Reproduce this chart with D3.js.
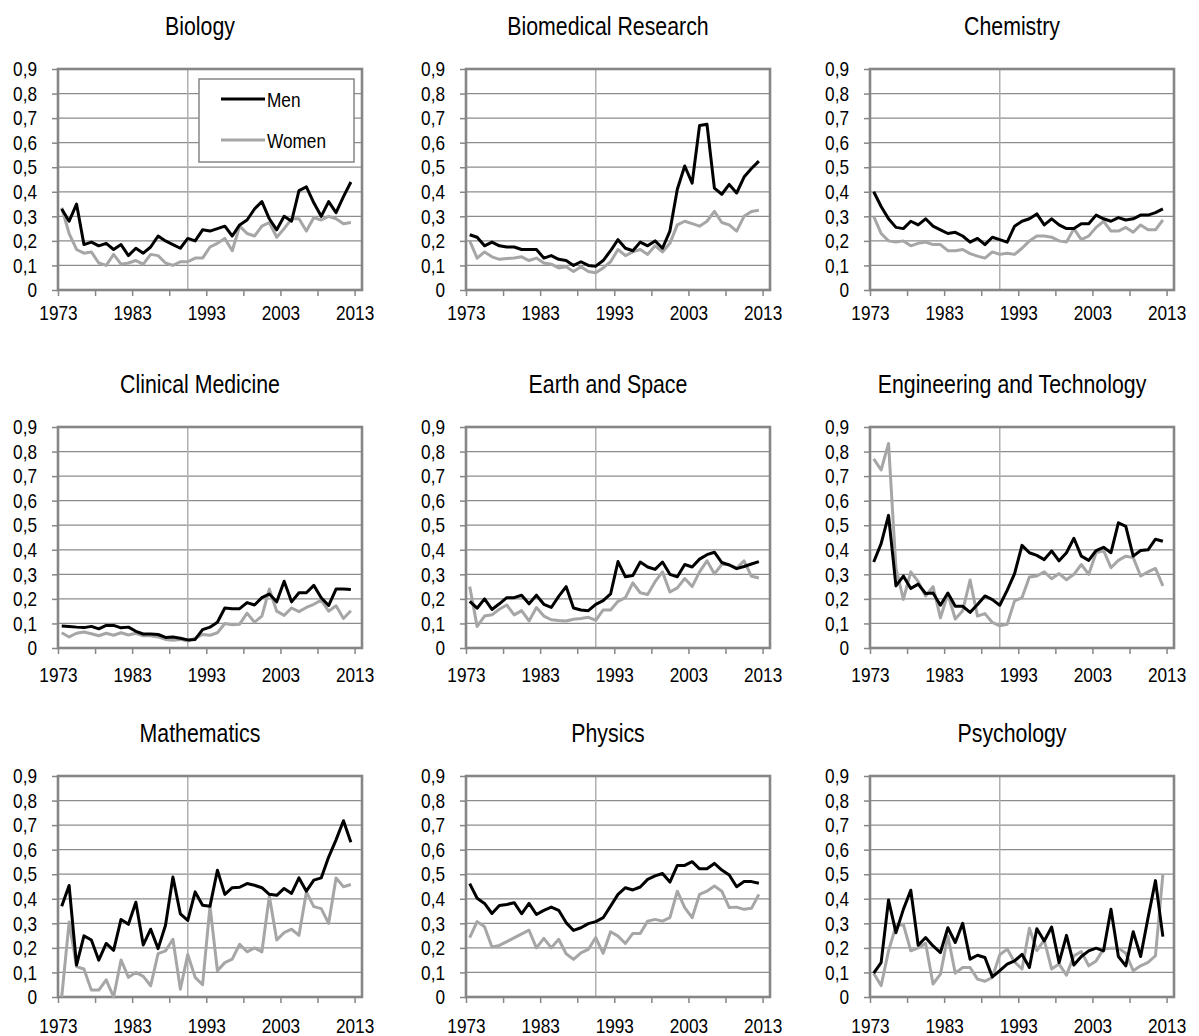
<!DOCTYPE html>
<html>
<head>
<meta charset="utf-8">
<script src="https://cdn.jsdelivr.net/npm/d3@7"></script>
<style>
  body { margin: 0; background: #fff; }
  .tick-text { font-family: "Liberation Sans", Arial, sans-serif; font-size: 21px; fill: #000; }
  .panel-title { font-family: "Liberation Sans", Arial, sans-serif; font-size: 26px; fill: #000; }
  .legend-text { font-family: "Liberation Sans", Arial, sans-serif; font-size: 21px; fill: #000; }
</style>
</head>
<body>
<svg id="chart" width="1199" height="1036"></svg>
<script>
// ── DATA ────────────────────────────────────────────────────────────────
const years = d3.range(1973, 2013);
const yTicks = [0, 0.1, 0.2, 0.3, 0.4, 0.5, 0.6, 0.7, 0.8, 0.9];
const xTickMarks = [1973, 1978, 1983, 1988, 1993, 1998, 2003, 2008, 2013];
const xTickLabels = [1973, 1983, 1993, 2003, 2013];
const markerYear = 1990;
const seriesNames = ["Men", "Women"];

const fieldNames = [
  "Biology", "Biomedical Research", "Chemistry",
  "Clinical Medicine", "Earth and Space", "Engineering and Technology",
  "Mathematics", "Physics", "Psychology"
];

const biologyMen = [0.33,0.28,0.35,0.185,0.195,0.18,0.19,0.165,0.185,0.14,0.17,0.15,0.175,0.22,0.2,0.185,0.17,0.21,0.2,0.245,0.24,0.25,0.26,0.22,0.265,0.285,0.33,0.36,0.29,0.245,0.3,0.28,0.405,0.42,0.355,0.3,0.36,0.315,0.38,0.44];
const biologyWomen = [0.335,0.23,0.165,0.15,0.155,0.11,0.1,0.145,0.105,0.11,0.12,0.105,0.145,0.14,0.11,0.1,0.115,0.115,0.13,0.13,0.175,0.19,0.21,0.16,0.26,0.23,0.22,0.26,0.275,0.215,0.25,0.29,0.29,0.24,0.295,0.285,0.3,0.29,0.27,0.275];

const biomedMen = [0.225,0.215,0.18,0.195,0.18,0.175,0.175,0.165,0.165,0.165,0.13,0.14,0.125,0.12,0.1,0.115,0.1,0.097,0.12,0.16,0.205,0.17,0.16,0.195,0.18,0.2,0.17,0.24,0.41,0.505,0.435,0.67,0.675,0.415,0.39,0.43,0.395,0.46,0.495,0.525];
const biomedWomen = [0.2,0.13,0.155,0.135,0.125,0.128,0.13,0.135,0.12,0.13,0.11,0.105,0.09,0.095,0.075,0.095,0.075,0.07,0.09,0.115,0.165,0.14,0.155,0.165,0.145,0.18,0.155,0.19,0.265,0.28,0.27,0.26,0.28,0.32,0.275,0.265,0.24,0.3,0.32,0.325];

const chemistryMen = [0.4,0.34,0.29,0.255,0.25,0.28,0.265,0.29,0.26,0.245,0.23,0.235,0.22,0.195,0.21,0.185,0.215,0.205,0.195,0.26,0.28,0.29,0.31,0.265,0.29,0.265,0.25,0.25,0.27,0.27,0.305,0.29,0.28,0.295,0.285,0.29,0.305,0.305,0.315,0.33];
const chemistryWomen = [0.3,0.23,0.2,0.195,0.2,0.18,0.19,0.195,0.185,0.185,0.16,0.16,0.165,0.148,0.138,0.13,0.155,0.145,0.15,0.145,0.17,0.2,0.22,0.22,0.215,0.2,0.195,0.25,0.205,0.22,0.255,0.28,0.24,0.24,0.255,0.235,0.265,0.245,0.245,0.285];

const clinicalMen = [0.09,0.088,0.085,0.083,0.088,0.078,0.092,0.092,0.082,0.085,0.068,0.057,0.057,0.055,0.043,0.045,0.04,0.033,0.035,0.075,0.085,0.105,0.163,0.16,0.16,0.185,0.175,0.205,0.22,0.188,0.272,0.188,0.225,0.225,0.255,0.205,0.173,0.24,0.24,0.238];
const clinicalWomen = [0.062,0.045,0.06,0.065,0.058,0.05,0.06,0.052,0.062,0.053,0.06,0.05,0.05,0.045,0.035,0.032,0.035,0.028,0.04,0.055,0.052,0.062,0.1,0.095,0.097,0.142,0.105,0.13,0.24,0.15,0.133,0.163,0.148,0.165,0.178,0.195,0.15,0.172,0.12,0.152];

const earthMen = [0.19,0.162,0.2,0.157,0.18,0.205,0.205,0.215,0.18,0.215,0.178,0.165,0.21,0.25,0.163,0.155,0.152,0.178,0.193,0.22,0.352,0.29,0.295,0.35,0.33,0.32,0.35,0.3,0.29,0.34,0.33,0.362,0.38,0.39,0.348,0.338,0.323,0.332,0.342,0.352];
const earthWomen = [0.25,0.088,0.13,0.135,0.158,0.175,0.135,0.152,0.11,0.165,0.13,0.115,0.112,0.11,0.117,0.12,0.125,0.113,0.155,0.155,0.19,0.205,0.265,0.225,0.218,0.27,0.31,0.228,0.245,0.283,0.25,0.31,0.355,0.302,0.34,0.34,0.325,0.355,0.292,0.285];

const engineeringMen = [0.35,0.425,0.54,0.253,0.293,0.242,0.26,0.222,0.224,0.174,0.224,0.17,0.17,0.145,0.177,0.212,0.197,0.174,0.235,0.303,0.418,0.388,0.377,0.36,0.395,0.355,0.388,0.447,0.374,0.357,0.397,0.41,0.388,0.51,0.495,0.374,0.397,0.4,0.443,0.435];
const engineeringWomen = [0.77,0.725,0.833,0.325,0.198,0.31,0.27,0.212,0.25,0.123,0.22,0.118,0.152,0.277,0.13,0.14,0.104,0.09,0.097,0.192,0.205,0.289,0.293,0.31,0.282,0.303,0.278,0.3,0.34,0.3,0.388,0.397,0.327,0.357,0.374,0.368,0.293,0.31,0.324,0.253];

const mathMen = [0.37,0.454,0.13,0.249,0.232,0.15,0.218,0.19,0.316,0.296,0.386,0.212,0.276,0.197,0.292,0.489,0.339,0.312,0.428,0.374,0.37,0.516,0.418,0.445,0.447,0.462,0.455,0.445,0.418,0.414,0.442,0.422,0.485,0.431,0.476,0.485,0.57,0.64,0.718,0.63];
const mathWomen = [0.0,0.305,0.124,0.114,0.028,0.028,0.07,0.0,0.151,0.08,0.1,0.084,0.046,0.177,0.188,0.235,0.032,0.173,0.08,0.05,0.37,0.107,0.14,0.154,0.215,0.184,0.2,0.184,0.411,0.232,0.262,0.276,0.251,0.428,0.368,0.36,0.3,0.485,0.449,0.458];

const physicsMen = [0.462,0.402,0.381,0.34,0.373,0.377,0.384,0.339,0.381,0.336,0.353,0.366,0.353,0.303,0.271,0.282,0.299,0.307,0.323,0.37,0.418,0.445,0.436,0.448,0.479,0.493,0.503,0.468,0.536,0.536,0.551,0.522,0.522,0.544,0.517,0.497,0.449,0.47,0.47,0.463];
const physicsWomen = [0.242,0.307,0.286,0.204,0.21,null,null,null,0.272,0.2,0.239,0.2,0.235,0.176,0.153,0.18,0.194,0.242,0.178,0.266,0.248,0.218,0.259,0.259,0.309,0.316,0.309,0.323,0.431,0.364,0.323,0.418,0.431,0.452,0.431,0.364,0.366,0.357,0.361,0.418];

const psychologyMen = [0.097,0.14,0.395,0.262,0.357,0.435,0.211,0.242,0.208,0.181,0.282,0.222,0.3,0.154,0.17,0.161,0.082,0.107,0.134,0.147,0.174,0.12,0.278,0.228,0.285,0.14,0.251,0.13,0.165,0.188,0.199,0.188,0.357,0.165,0.127,0.266,0.165,0.323,0.474,0.246];
const psychologyWomen = [0.097,0.046,0.188,0.289,0.296,0.188,0.2,0.219,0.053,0.093,0.249,0.097,0.12,0.12,0.073,0.064,0.08,0.172,0.195,0.143,0.114,0.28,0.189,0.232,0.114,0.134,0.089,0.168,0.185,0.127,0.147,0.195,0.199,0.199,0.178,0.107,0.127,0.141,0.168,0.499];

const menSeries = [biologyMen, biomedMen, chemistryMen, clinicalMen, earthMen, engineeringMen, mathMen, physicsMen, psychologyMen];
const womenSeries = [biologyWomen, biomedWomen, chemistryWomen, clinicalWomen, earthWomen, engineeringWomen, mathWomen, physicsWomen, psychologyWomen];

// ── LAYOUT ──────────────────────────────────────────────────────────────
const colLeft = [58, 466, 870];
const rowTop = [69, 427, 776];
const rowLabelPad = [9, 13, 15]; // year labels sit a bit lower in the lower rows
const plotW = 304, plotH = 221;
const narrow = 0.82; // horizontal squeeze to get an Arial Narrow look
const colors = { men: "#000000", women: "#a6a6a6", frame: "#868686", grid: "#8c8c8c", marker: "#b0b0b0" };

const svg = d3.select("#chart");

// comma as decimal mark, plain "0" at the origin
const locale = d3.formatLocale({ decimal: ",", thousands: ".", grouping: [3], currency: ["", ""] });
const fmt = locale.format(".1f");
const yFormat = (d) => (d === 0 ? "0" : fmt(d));

const xScale = d3.scaleLinear().domain([1973, 2014]).range([0, plotW]);
const yScale = d3.scaleLinear().domain([0, 0.9]).range([plotH, 0]);

// points sit in the middle of each year slot
const lineGen = d3.line()
  .x((d) => xScale(d[0] + 0.5))
  .y((d) => yScale(d[1]));

// squeezed text placed at (x, y)
function narrowText(parent, x, y, cls, anchor, txt) {
  return parent.append("g")
    .attr("transform", `translate(${x},${y}) scale(${narrow},1)`)
    .append("text")
    .attr("class", cls)
    .attr("text-anchor", anchor)
    .text(txt);
}

fieldNames.forEach((name, i) => {
  const row = Math.floor(i / 3);
  const g = svg.append("g")
    .attr("transform", `translate(${colLeft[i % 3]},${rowTop[row]})`);

  // title
  narrowText(g, plotW / 2 - 10, -34, "panel-title", "middle", name);

  // horizontal grid lines
  g.append("g")
    .selectAll("line")
    .data(yTicks.filter((d) => d > 0 && d < 0.9))
    .join("line")
    .attr("x1", 0).attr("x2", plotW)
    .attr("y1", (d) => yScale(d)).attr("y2", (d) => yScale(d))
    .attr("stroke", colors.grid)
    .attr("stroke-width", 1.3);

  // vertical marker line
  g.append("line")
    .attr("x1", xScale(markerYear + 0.5)).attr("x2", xScale(markerYear + 0.5))
    .attr("y1", 0).attr("y2", plotH)
    .attr("stroke", colors.marker)
    .attr("stroke-width", 1.5);

  // y axis
  const yAxis = g.append("g")
    .call(d3.axisLeft(yScale).tickValues(yTicks).tickFormat(yFormat).tickSize(6));
  yAxis.select(".domain").remove();
  yAxis.selectAll("line").attr("stroke", colors.frame).attr("stroke-width", 1.5);
  yAxis.selectAll("text")
    .attr("class", "tick-text")
    .attr("x", -21 / narrow)
    .attr("transform", `scale(${narrow},1)`);

  // x axis
  const xAxis = g.append("g")
    .attr("transform", `translate(0,${plotH})`)
    .call(d3.axisBottom(xScale).tickValues(xTickMarks)
      .tickFormat((d) => (xTickLabels.includes(d) ? d : "")).tickSize(6).tickPadding(rowLabelPad[row]));
  xAxis.select(".domain").remove();
  xAxis.selectAll("line").attr("stroke", colors.frame).attr("stroke-width", 1.5);
  xAxis.selectAll("text")
    .attr("class", "tick-text")
    .attr("transform", `scale(${narrow},1)`);

  // plot frame
  g.append("rect")
    .attr("width", plotW).attr("height", plotH)
    .attr("fill", "none")
    .attr("stroke", colors.frame)
    .attr("stroke-width", 2.6);

  // series
  const pairs = (vals) => years.map((y, k) => [y, vals[k]]).filter((d) => d[1] != null);
  g.append("path")
    .attr("d", lineGen(pairs(womenSeries[i])))
    .attr("fill", "none")
    .attr("stroke", colors.women)
    .attr("stroke-width", 3)
    .attr("stroke-linejoin", "round");
  g.append("path")
    .attr("d", lineGen(pairs(menSeries[i])))
    .attr("fill", "none")
    .attr("stroke", colors.men)
    .attr("stroke-width", 3)
    .attr("stroke-linejoin", "round");

  // legend only in the first panel
  if (i === 0) {
    const leg = g.append("g").attr("transform", "translate(141,10)");
    leg.append("rect")
      .attr("width", 155).attr("height", 83)
      .attr("fill", "#fff")
      .attr("stroke", colors.frame)
      .attr("stroke-width", 1.5);
    [colors.men, colors.women].forEach((c, k) => {
      const yy = 20 + k * 41;
      leg.append("line")
        .attr("x1", 22).attr("x2", 66)
        .attr("y1", yy).attr("y2", yy)
        .attr("stroke", c).attr("stroke-width", 3);
      narrowText(leg, 68, yy + 7.5, "legend-text", "start", seriesNames[k]);
    });
  }
});
</script>
</body>
</html>
